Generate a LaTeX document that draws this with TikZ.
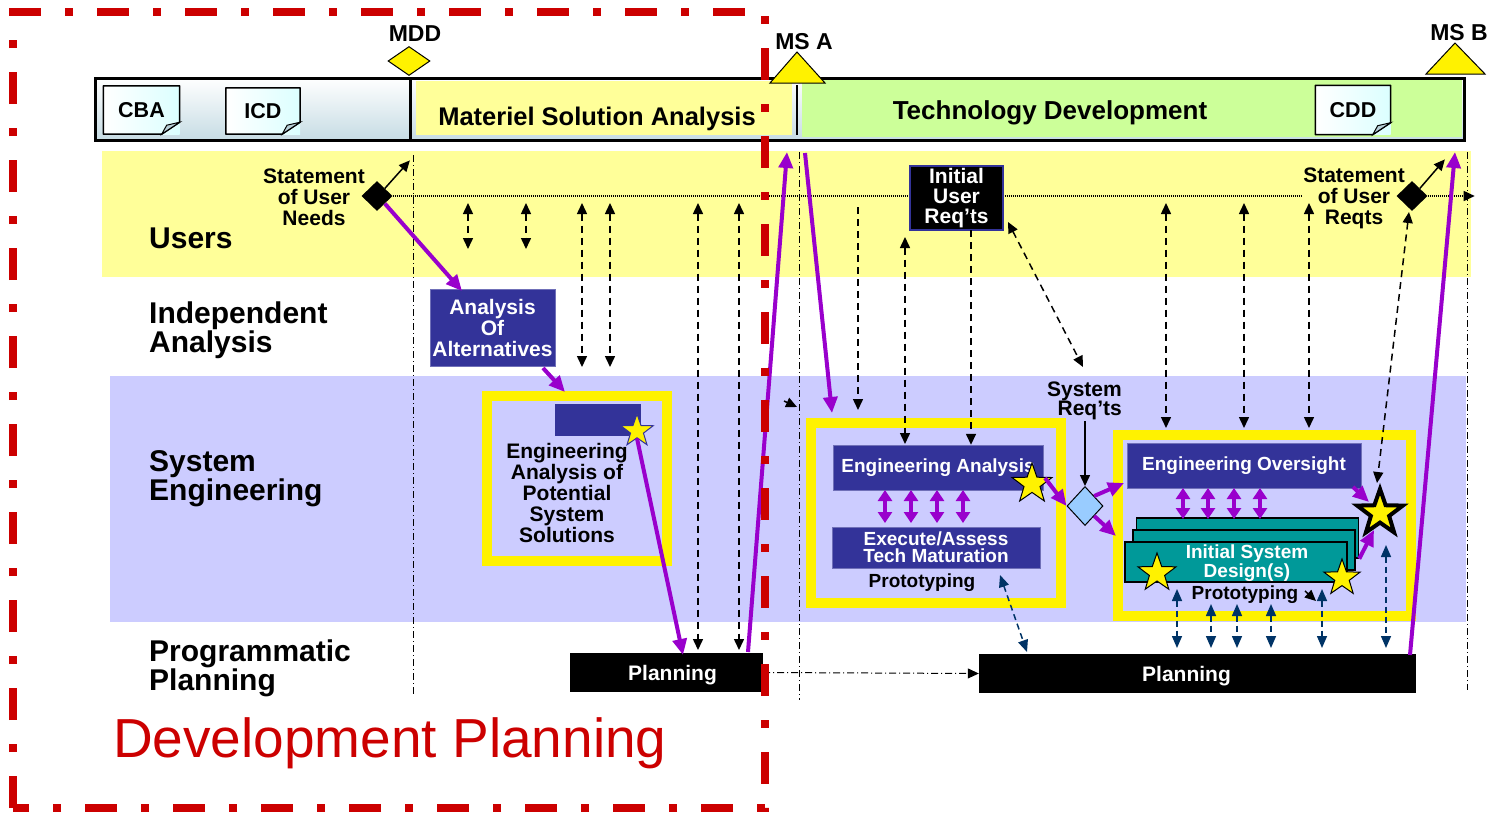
\documentclass[tikz,border=0pt]{standalone}
\usepackage{fontspec}
\setmainfont{Liberation Sans}
\usetikzlibrary{arrows.meta,shapes.geometric,calc}

\definecolor{laneyellow}{HTML}{FFFF99}
\definecolor{lanelilac}{HTML}{CCCCFF}
\definecolor{boxblue}{HTML}{333399}
\definecolor{flowpurple}{HTML}{9900CC}
\definecolor{framered}{HTML}{CC0000}
\definecolor{boxteal}{HTML}{009999}
\definecolor{reqblue}{HTML}{99CCFF}
\definecolor{navyline}{HTML}{003366}
\definecolor{tdgreen}{HTML}{CCFF99}
\definecolor{barblue}{HTML}{C6DCE4}
\definecolor{foldgray}{HTML}{B8D0D8}

\newcommand{\bfsize}[2]{\fontsize{#1}{#2}\selectfont\bfseries}

\begin{document}
\begin{tikzpicture}
[x=1pt,y=-1pt,>={Triangle[length=11pt,width=10pt]},%
  every node/.style={inner sep=1pt},%
  lbl/.style={font=\bfsize{21}{21},align=center},%
  lanelbl/.style={font=\bfsize{30}{29},align=left,anchor=west},%
  doc/.style={left color=white,right color=cyan!14,font=\bfsize{21.5}{22},minimum width=76pt,minimum height=48pt},%
  bluebox/.style={fill=boxblue,draw=boxblue!70,text=white,font=\bfsize{19}{17},align=center},%
  ybox/.style={draw=yellow,line width=10pt},%
  planbox/.style={fill=black,text=white,font=\bfsize{21}{21},minimum height=39pt,text depth=0pt},%
  isdbox/.style={fill=boxteal,draw=black,line width=1.5pt,minimum width=222pt,minimum height=40pt},%
  stardot/.style={star,star points=5,star point ratio=2.5,fill=yellow,draw=black,line width=1pt,inner sep=0pt},%
  decision/.style={diamond,fill=black,inner sep=0pt,minimum width=31pt,minimum height=30pt},%
  mstone/.style={fill=yellow,draw=black,line width=1pt},%
  msline/.style={line width=1pt,dash pattern=on 7pt off 3pt on 1pt off 3pt},%
  dotline/.style={line width=1.6pt,dash pattern=on 1pt off 1pt},%
  ddash/.style={line width=1.5pt,dash pattern=on 7pt off 5pt},%
  tarrow/.style={line width=1.5pt,->},%
  navyarrow/.style={navyline,line width=1.5pt,dash pattern=on 6pt off 4pt,{Triangle[length=12pt,width=10pt]}-{Triangle[length=12pt,width=10pt]}},%
  pflow/.style={flowpurple,line width=4pt,-{Triangle[length=16pt,width=14pt]}},%
  pdbl/.style={flowpurple,line width=4pt,{Triangle[length=11pt,width=14pt]}-{Triangle[length=11pt,width=14pt]}},%
  redframe/.style={framered,line width=8pt,dash pattern=on 32pt off 24pt on 8pt off 24pt}]
\useasboundingbox (0,0) rectangle (1489,814);

% lanes
\fill[laneyellow] (102,151) rectangle (1471,277);
\fill[lanelilac] (110,376) rectangle (1466,622);
\node[lanelbl,anchor=base west] (lusers) at (148,248) {Users};
\node[lanelbl] (lindep) at (148,330) {Independent\\Analysis};
\node[lanelbl] (lsyseng) at (148,479) {System\\Engineering};
\node[lanelbl] (lprog) at (148,668) {Programmatic\\Planning};

% phase bar
\shade[top color=white,bottom color=barblue] (95,78) rectangle (1464,140);
\fill[laneyellow] (416,81) rectangle (792,135);
\fill[tdgreen] (802,80) rectangle (1462,137);
\draw[line width=3pt] (410,78) -- (410,140);
\draw[line width=2.5pt] (797,85) -- (797,135);
\draw[line width=3pt] (95,78) rectangle (1464,140);
\node[doc] (cba) at (141.5,110) {CBA};
\node[doc,minimum width=74pt,minimum height=46pt] (icd) at (263,111) {ICD};
\node[doc,minimum width=75pt,minimum height=49pt] (cdd) at (1353,110) {CDD};
\foreach \d in {cba,icd,cdd} {
  \draw[line width=1.5pt,line join=round] ($(\d.south east)+(-18,0)$) -- (\d.south west) -- (\d.north west)
    -- (\d.north east) -- ($(\d.south east)+(0,-12)$) -- cycle;
  \filldraw[fill=foldgray,line width=1pt] ($(\d.south east)+(-18,0)$) -- ($(\d.south east)+(-13,-9)$)
    -- ($(\d.south east)+(0,-12)$) -- cycle;
}
\node[font=\bfsize{25.5}{26}] (msa) at (597,119) {Materiel Solution Analysis};
\node[font=\bfsize{26}{26}] (tdev) at (1050,113) {Technology Development};

% milestones
\node[diamond,mstone,inner sep=0pt,minimum width=42pt,minimum height=29pt] (mdd) at (409,61) {};
\node[font=\bfsize{23}{23}] (mddlbl) at (415,34) {MDD};
\filldraw[mstone] (770,83) -- (797,52) -- (825,83) -- cycle;
\node[font=\bfsize{23}{23}] (msalbl) at (804,42) {MS A};
\filldraw[mstone] (1426,74) -- (1455,43) -- (1485,74) -- cycle;
\node[font=\bfsize{23}{23}] (msblbl) at (1459,33) {MS B};
\draw[msline] (413,155) -- (413,695);
\draw[msline] (799,152) -- (799,700);
\draw[msline] (1467,152) -- (1467,690);

% users lane
\node[lbl] (sunlbl) at (314,197) {Statement\\of User\\Needs};
\node[lbl] (surlbl) at (1354,198) {Statement\\of User\\Reqts};
\node[decision] (sun) at (377,196) {};
\node[decision] (sur) at (1412,196) {};
\draw[dotline] (sun.east) -- (sun.east -| surlbl.west);
\draw[dotline,->] (sur.east) -- ++(47,0);
\draw[tarrow] (sun.north east) -- ++(25,-28);
\draw[tarrow] (sur.north east) -- ++(25,-29);
\node[fill=black,draw=boxblue,line width=1.5pt,text=white,font=\bfsize{21}{20},align=center,minimum width=93pt,minimum height=64pt] (iur) at (956.5,198) {Initial\\User\\Req’ts};

% materiel solution analysis
\node[bluebox,font=\bfsize{21}{21},minimum width=125pt,minimum height=77pt] (aoa) at (492.5,328) {Analysis\\Of\\Alternatives};
\node[ybox,minimum width=180pt,minimum height=165pt] (eapss) at (577,478.5) {};
\node[fill=boxblue,minimum width=86pt,minimum height=32pt] (eapssbar) at (598,420) {};
\node[lbl] (eapsstxt) at (567,493) {Engineering\\Analysis of\\Potential\\System\\Solutions};
\node[stardot,draw=boxblue,minimum size=34pt] (eapssstar) at (637,431) {};
\node[planbox,minimum width=193pt] (plan1) at (666.5,672.5) {\hspace*{12pt}Planning};

% technology development
\node[ybox,minimum width=250pt,minimum height=180pt] (eabox) at (936,513) {};
\node[bluebox,minimum width=210pt,minimum height=45pt] (ea) at (938,467.5) {Engineering Analysis};
\node[bluebox,minimum width=208pt,minimum height=41pt] (etm) at (936,547.5) {Execute/Assess\\Tech Maturation};
\node[lbl,font=\bfsize{19}{19}] (proto1) at (922,583) {Prototyping};
\node[stardot,minimum size=42pt] (eastar) at (1032,484) {};
\node[lbl,font=\bfsize{21}{19},align=right,anchor=east] (sysr) at (1123,401) {System\\Req’ts};
\node[diamond,fill=reqblue,draw=black,line width=1pt,inner sep=0pt,minimum width=36pt,minimum height=39pt] (sysd) at (1085,506) {};
\draw[tarrow] (sysd |- sysr.south) -- (sysd.north);
\node[ybox,minimum width=293pt,minimum height=181pt] (eobox) at (1264.5,525.5) {};
\node[bluebox,minimum width=234pt,minimum height=45pt] (eo) at (1244,465.5) {Engineering Oversight};
\node[isdbox] (isd3) at (1247.5,538) {};
\node[isdbox] (isd2) at (1244,550) {};
\node[isdbox] (isd) at (1236,562) {};
\node[bluebox,fill=none,draw=none] (isdtxt) at (1247,563) {Initial System\\Design(s)};
\node[stardot,minimum size=40pt] (isdstar1) at (1157,573) {};
\node[stardot,minimum size=38pt] (isdstar2) at (1342,578) {};
\node[stardot,line width=4pt,minimum size=48pt] (bigstar) at (1380,513) {};
\node[lbl,font=\bfsize{19}{19}] (proto2) at (1245,595) {Prototyping};
\node[planbox,minimum width=437pt] (plan2) at (1197.5,673.5) {Planning\hspace*{22pt}};

% dashed links
\coordinate (iurfoot) at ($(iur.center)+(14.5,8)$);
\foreach \x in {468,526} \draw[ddash,<->] (\x,203) -- (\x,249);
\foreach \x in {582,610} \draw[ddash,<->] (\x,203) -- (\x,367);
\foreach \x in {698,739} \draw[ddash,<->] (\x,203) -- (\x,650);
\draw[ddash,->] (858,207) -- (858,410);
\draw[ddash,<->] (905,237) -- (905,444);
\draw[ddash,->] (iurfoot) -- (iurfoot |- ea.north);
\draw[ddash,<->] (1008,222) -- (1083,367);
\draw[line width=1.5pt,->] (784,401) -- (797,407);
\foreach \x in {1166,1244,1309} \draw[ddash,<->] (\x,203) -- (\x,428);
\draw[ddash,<->] (1409,212) -- (1377,483);
\draw[line width=1.5pt,->] (1305,591) -- (1316,601);
\draw[navyarrow] (1000,575) -- (1027,652);
\foreach \x/\y in {1177/589,1211/604,1237/604,1271/604,1322/589,1386/545}
  \draw[navyarrow] (\x,\y) -- (\x,648);
\draw[msline,->] (plan1.east) -- (plan2.west);

% flow
\draw[pflow] (sun.south east) -- (462,291);
\draw[pflow] (543,368) -- (565,392);
\draw[pflow] (eapssstar.south) -- (683,655);
\draw[pflow] (748,652) -- (787,152);
\draw[pflow] (805,153) -- (832,413);
\foreach \x in {885,911,937,963} \draw[pdbl] (\x,490) -- (\x,523);
\draw[pflow] (1045,478) -- (sysd.west);
\draw[pflow] (sysd.north east) -- (1124,483);
\draw[pflow] (sysd.south east) -- (1116,536);
\foreach \x in {1183,1208,1234,1260} \draw[pdbl] (\x,488) -- (\x,519);
\draw[pflow] (1353,487) -- (1369,502);
\draw[pflow] (isd3.south east) -- (1374,530);
\draw[pflow] (1410,655) -- (1455,152);

% development planning
\node[framered,font=\fontsize{55}{55}\selectfont,anchor=base west] (devplan) at (112,757) {Development Planning};
\draw[redframe] (13,808) -- (13,12) -- (765,12) -- (765,808) -- cycle;
\end{tikzpicture}
\end{document}
